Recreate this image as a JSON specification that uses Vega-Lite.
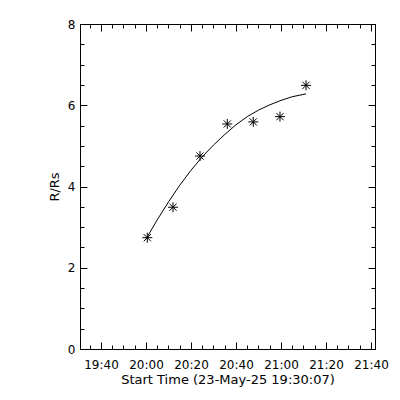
{
  "$schema": "https://vega.github.io/schema/vega-lite/v6.json",
  "width": 295,
  "height": 325,
  "autosize": {"type": "none"},
  "padding": {"left": 80, "top": 24, "right": 25, "bottom": 51},
  "background": "white",
  "config": {
    "view": {"stroke": "black", "strokeWidth": 1},
    "axis": {
      "labelFont": "DejaVu Sans",
      "titleFont": "DejaVu Sans",
      "labelFontSize": 12,
      "titleFontSize": 13,
      "titleFontWeight": "normal",
      "labelColor": "black",
      "titleColor": "black",
      "domain": false,
      "tickColor": "black",
      "tickWidth": 1,
      "grid": false,
      "labelFlush": false,
      "labelOverlap": false,
      "labelBound": false
    }
  },
  "datasets": {
    "obs": [
      {"t": "2025-05-23T20:00:35Z", "r": 2.74},
      {"t": "2025-05-23T20:12:00Z", "r": 3.49},
      {"t": "2025-05-23T20:24:00Z", "r": 4.75},
      {"t": "2025-05-23T20:36:08Z", "r": 5.54},
      {"t": "2025-05-23T20:47:41Z", "r": 5.59},
      {"t": "2025-05-23T20:59:33Z", "r": 5.72},
      {"t": "2025-05-23T21:11:07Z", "r": 6.49}
    ],
    "fit": [
      {"t": "2025-05-23T20:00:35Z", "r": 2.76},
      {"t": "2025-05-23T20:05:00Z", "r": 3.18},
      {"t": "2025-05-23T20:10:00Z", "r": 3.62},
      {"t": "2025-05-23T20:15:00Z", "r": 4.03},
      {"t": "2025-05-23T20:20:00Z", "r": 4.40},
      {"t": "2025-05-23T20:25:00Z", "r": 4.73},
      {"t": "2025-05-23T20:30:00Z", "r": 5.02},
      {"t": "2025-05-23T20:35:00Z", "r": 5.28},
      {"t": "2025-05-23T20:40:00Z", "r": 5.52},
      {"t": "2025-05-23T20:45:00Z", "r": 5.72},
      {"t": "2025-05-23T20:50:00Z", "r": 5.88},
      {"t": "2025-05-23T20:55:00Z", "r": 6.01},
      {"t": "2025-05-23T21:00:00Z", "r": 6.12},
      {"t": "2025-05-23T21:05:00Z", "r": 6.21},
      {"t": "2025-05-23T21:11:07Z", "r": 6.28}
    ]
  },
  "layer": [
    {
      "data": {"name": "fit"},
      "mark": {"type": "line", "color": "black", "strokeWidth": 1},
      "encoding": {
        "x": {
          "field": "t", "type": "temporal",
          "scale": {"type": "utc", "domain": [
            {"year": 2025, "month": 5, "date": 23, "hours": 19, "minutes": 30, "seconds": 40, "utc": true},
            {"year": 2025, "month": 5, "date": 23, "hours": 21, "minutes": 41, "seconds": 47, "utc": true}
          ]},
          "axis": {
            "orient": "bottom",
            "title": "Start Time (23-May-25 19:30:07)",
            "values": [
              {"year": 2025, "month": 5, "date": 23, "hours": 19, "minutes": 40, "utc": true},
              {"year": 2025, "month": 5, "date": 23, "hours": 20, "minutes": 0, "utc": true},
              {"year": 2025, "month": 5, "date": 23, "hours": 20, "minutes": 20, "utc": true},
              {"year": 2025, "month": 5, "date": 23, "hours": 20, "minutes": 40, "utc": true},
              {"year": 2025, "month": 5, "date": 23, "hours": 21, "minutes": 0, "utc": true},
              {"year": 2025, "month": 5, "date": 23, "hours": 21, "minutes": 20, "utc": true},
              {"year": 2025, "month": 5, "date": 23, "hours": 21, "minutes": 40, "utc": true}
            ],
            "format": "%H:%M",
            "offset": -7,
            "tickSize": 7,
            "labelPadding": 10,
            "titlePadding": 3
          }
        },
        "y": {
          "field": "r", "type": "quantitative",
          "scale": {"domain": [0, 8], "nice": false, "zero": false},
          "axis": {
            "orient": "left",
            "title": "R/Rs",
            "values": [0, 2, 4, 6, 8],
            "format": "d",
            "offset": -7,
            "tickSize": 7,
            "labelPadding": 5,
            "titlePadding": 6
          }
        }
      }
    },
    {
      "data": {"name": "obs"},
      "mark": {
        "type": "point",
        "shape": "M-1,0L1,0M0,-1L0,1M-0.72,-0.72L0.72,0.72M-0.72,0.72L0.72,-0.72",
        "filled": false,
        "color": "black",
        "strokeWidth": 1,
        "size": 100,
        "opacity": 1
      },
      "encoding": {
        "x": {
          "field": "t", "type": "temporal",
          "axis": {
            "orient": "top",
            "title": null,
            "labels": false,
            "values": [
              {"year": 2025, "month": 5, "date": 23, "hours": 19, "minutes": 40, "utc": true},
              {"year": 2025, "month": 5, "date": 23, "hours": 20, "minutes": 0, "utc": true},
              {"year": 2025, "month": 5, "date": 23, "hours": 20, "minutes": 20, "utc": true},
              {"year": 2025, "month": 5, "date": 23, "hours": 20, "minutes": 40, "utc": true},
              {"year": 2025, "month": 5, "date": 23, "hours": 21, "minutes": 0, "utc": true},
              {"year": 2025, "month": 5, "date": 23, "hours": 21, "minutes": 20, "utc": true},
              {"year": 2025, "month": 5, "date": 23, "hours": 21, "minutes": 40, "utc": true}
            ],
            "offset": -7,
            "tickSize": 7
          }
        },
        "y": {
          "field": "r", "type": "quantitative",
          "axis": {
            "orient": "right",
            "title": null,
            "labels": false,
            "values": [0, 2, 4, 6, 8],
            "offset": -7,
            "tickSize": 7
          }
        }
      }
    },
    {
      "data": {"name": "obs"},
      "mark": {"type": "point", "opacity": 0},
      "encoding": {
        "x": {
          "field": "t", "type": "temporal",
          "axis": {
            "orient": "bottom",
            "title": null,
            "labels": false,
            "values": [1748028900000, 1748029200000, 1748029500000, 1748029800000, 1748030100000, 1748030400000, 1748030700000, 1748031000000, 1748031300000, 1748031600000, 1748031900000, 1748032200000, 1748032500000, 1748032800000, 1748033100000, 1748033400000, 1748033700000, 1748034000000, 1748034300000, 1748034600000, 1748034900000, 1748035200000, 1748035500000, 1748035800000, 1748036100000, 1748036400000],
            "offset": -4,
            "tickSize": 4
          }
        },
        "y": {
          "field": "r", "type": "quantitative",
          "axis": {
            "orient": "left",
            "title": null,
            "labels": false,
            "values": [0, 0.5, 1, 1.5, 2, 2.5, 3, 3.5, 4, 4.5, 5, 5.5, 6, 6.5, 7, 7.5, 8],
            "offset": -4,
            "tickSize": 4
          }
        }
      }
    },
    {
      "data": {"name": "obs"},
      "mark": {"type": "point", "opacity": 0},
      "encoding": {
        "x": {
          "field": "t", "type": "temporal",
          "axis": {
            "orient": "top",
            "title": null,
            "labels": false,
            "values": [1748028900000, 1748029200000, 1748029500000, 1748029800000, 1748030100000, 1748030400000, 1748030700000, 1748031000000, 1748031300000, 1748031600000, 1748031900000, 1748032200000, 1748032500000, 1748032800000, 1748033100000, 1748033400000, 1748033700000, 1748034000000, 1748034300000, 1748034600000, 1748034900000, 1748035200000, 1748035500000, 1748035800000, 1748036100000, 1748036400000],
            "offset": -4,
            "tickSize": 4
          }
        },
        "y": {
          "field": "r", "type": "quantitative",
          "axis": {
            "orient": "right",
            "title": null,
            "labels": false,
            "values": [0, 0.5, 1, 1.5, 2, 2.5, 3, 3.5, 4, 4.5, 5, 5.5, 6, 6.5, 7, 7.5, 8],
            "offset": -4,
            "tickSize": 4
          }
        }
      }
    }
  ],
  "resolve": {"axis": {"x": "independent", "y": "independent"}}
}
